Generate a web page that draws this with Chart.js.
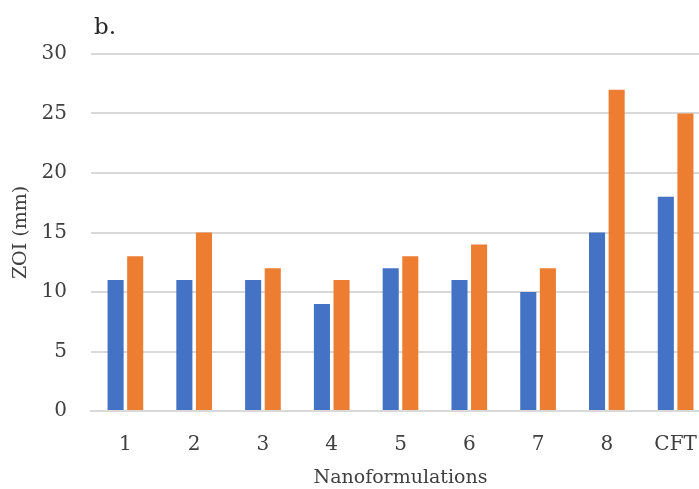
<!DOCTYPE html>
<html>
<head>
<meta charset="utf-8">
<script src="https://cdn.jsdelivr.net/npm/chart.js@4/dist/chart.umd.min.js"></script>
<style>
  html, body { margin: 0; padding: 0; background: #fff; overflow: hidden; }
  #wrap { width: 719px; height: 489px; position: relative; }
</style>
</head>
<body>
<div id="wrap"><canvas id="c"></canvas></div>
<script>
const categories = ['1', '2', '3', '4', '5', '6', '7', '8', 'CFT'];
const seriesA = [11, 11, 11, 9, 12, 11, 10, 15, 18];
const seriesB = [13, 15, 12, 11, 13, 14, 12, 27, 25];
const yTicks = [0, 5, 10, 15, 20, 25, 30];
const panelLabel = 'b.';
const xTitle = 'Nanoformulations';
const yTitle = 'ZOI (mm)';

const FONT = "'DejaVu Serif', serif";
const TXT = '#404040';

const panelPlugin = {
  id: 'panelLabel',
  afterDraw(chart) {
    const ctx = chart.ctx;
    ctx.save();
    ctx.font = "23px " + FONT;
    ctx.fillStyle = '#262626';
    ctx.textBaseline = 'alphabetic';
    ctx.textAlign = 'left';
    ctx.fillText(panelLabel, 94, 34);
    ctx.restore();
  }
};

new Chart(document.getElementById('c'), {
  type: 'bar',
  data: {
    labels: categories,
    datasets: [
      { data: seriesA, backgroundColor: '#4472C4', barPercentage: 0.82, categoryPercentage: 0.57 },
      { data: seriesB, backgroundColor: '#ED7D31', barPercentage: 0.82, categoryPercentage: 0.57 }
    ]
  },
  options: {
    responsive: true,
    maintainAspectRatio: false,
    animation: false,
    layout: { padding: { top: 54, right: 2, left: 0, bottom: 0 } },
    plugins: { legend: { display: false }, tooltip: { enabled: false } },
    scales: {
      x: {
        grid: { display: false, drawTicks: false },
        border: { display: true, color: '#d9d9d9', width: 2 },
        ticks: { color: TXT, font: { family: FONT, size: 20 }, padding: 22 },
        title: { display: true, text: xTitle, color: TXT, font: { family: FONT, size: 19 }, padding: { top: 8, bottom: 0 } },
        afterFit(s) { s.height = 78; }
      },
      y: {
        min: 0, max: 30,
        afterBuildTicks(s) { s.ticks = yTicks.map(v => ({ value: v })); },
        grid: { color: '#d9d9d9', lineWidth: 2, drawTicks: false },
        border: { display: false },
        ticks: { color: TXT, font: { family: FONT, size: 20 }, padding: 24 },
        title: { display: true, text: yTitle, color: TXT, font: { family: FONT, size: 19 }, padding: { top: 10, bottom: 0 } },
        afterFit(s) { s.width = 91; }
      }
    }
  },
  plugins: [panelPlugin]
});
</script>
</body>
</html>
